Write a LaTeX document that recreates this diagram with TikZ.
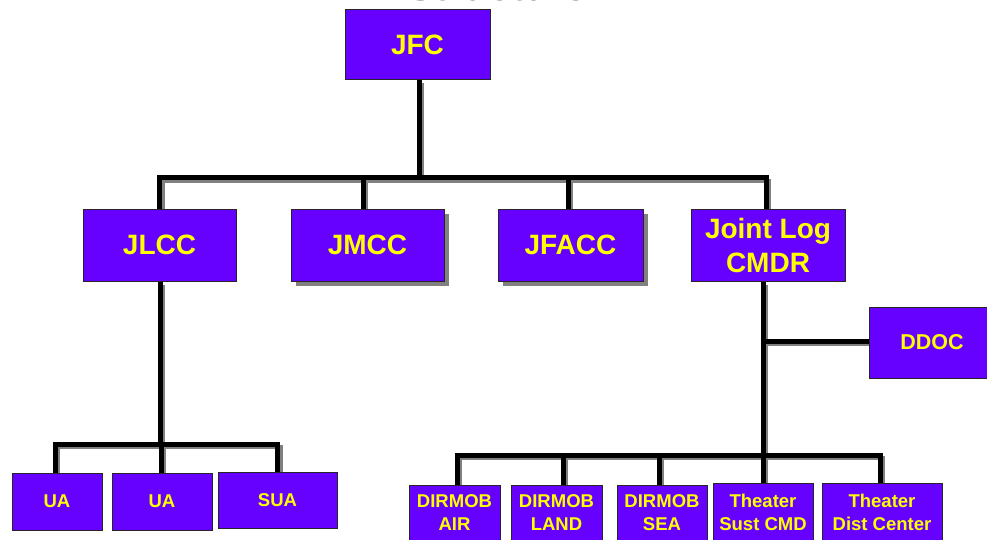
\documentclass[tikz,border=0pt]{standalone}
\usepackage{fontspec}
\setmainfont{Liberation Sans}
\usetikzlibrary{shadows}
\definecolor{boxpurple}{HTML}{6600FF}
\definecolor{boxyellow}{HTML}{FFFF00}
\definecolor{shadegray}{HTML}{808080}
\tikzset{
  orgbox/.style={draw=black!85, line width=1pt, fill=boxpurple, text=boxyellow,
    font=\bfseries, align=center, inner sep=0pt, rectangle},
  bigtext/.style={font=\bfseries\fontsize{28}{34}\selectfont},
  midtext/.style={font=\bfseries\fontsize{21.5}{26}\selectfont},
  smalltext/.style={font=\bfseries\fontsize{18.5}{23}\selectfont},
  boxshadow/.style={drop shadow={shadow xshift=4.5pt, shadow yshift=-4.5pt, fill=shadegray, opacity=1}},
  blackline/.style={draw=black, line width=5pt},
  grayline/.style={draw=shadegray, line width=4pt, transform canvas={xshift=3pt, yshift=-3pt}},
}
\newcommand\orgconnectors[1]{%
  \draw[#1] (jfc.south -| bustop) -- (bustop);
  \draw[#1] (jlcc.north) |- (bustop) -| ([xshift=-2pt]jlog.north);
  \draw[#1] ([xshift=-4.5pt]jmcc.north) -- ([xshift=-4.5pt]jmcc.north |- bustop);
  \draw[#1] ([xshift=-2.5pt]jfacc.north) -- ([xshift=-2.5pt]jfacc.north |- bustop);
  \draw[#1] (jlcc.south -| busleft) -- (busleft);
  \draw[#1] ([xshift=-2pt]ua1.north) |- (busleft) -| (sua.north);
  \draw[#1] ([xshift=-1pt]ua2.north) -- ([xshift=-1pt]ua2.north |- busleft);
  \draw[#1] (jlog.south -| busright) -- (busright);
  \draw[#1] (ddocjoint) -- (ddoc.west |- ddocjoint);
  \draw[#1] ([xshift=2.5pt]dair.north) |- (busright) -| ([xshift=-2pt]tdist.north);
  \draw[#1] ([xshift=6.5pt]dland.north) -- ([xshift=6.5pt]dland.north |- busright);
  \draw[#1] ([xshift=-3pt]dsea.north) -- ([xshift=-3pt]dsea.north |- busright);
  \draw[#1] (tsust.north) -- (tsust.north |- busright);
}
\begin{document}
\begin{tikzpicture}[x=1pt, y=-1pt]
\useasboundingbox (0,0) rectangle (987,540);
\clip (0,0) rectangle (987,540);
% partially visible title
\node[anchor=base, inner sep=0pt, text=black!75, font=\bfseries\fontsize{40.5}{44}\selectfont] (title) at (497.5,0.5) {Structure};
% boxes
\node[orgbox, bigtext, minimum width=145pt, minimum height=70pt] (jfc) at (417.5,45) {JFC};
\node[orgbox, bigtext, minimum width=153pt, minimum height=72pt] (jlcc) at (159.5,245) {JLCC};
\node[orgbox, bigtext, boxshadow, minimum width=153pt, minimum height=72pt] (jmcc) at (367.5,245) {JMCC};
\node[orgbox, bigtext, boxshadow, minimum width=145pt, minimum height=72pt] (jfacc) at (570.5,245) {JFACC};
\node[orgbox, bigtext, minimum width=154pt, minimum height=72pt] (jlog) at (768,245) {Joint Log\\CMDR};
\node[orgbox, midtext, minimum width=126pt, minimum height=71pt] (ddoc) at (932,342.5) {DDOC};
\node[orgbox, smalltext, minimum width=90pt, minimum height=57pt] (ua1) at (57,501.5) {UA};
\node[orgbox, smalltext, minimum width=100pt, minimum height=57pt] (ua2) at (162,501.5) {UA};
\node[orgbox, smalltext, minimum width=119pt, minimum height=56pt] (sua) at (277.5,500) {SUA};
\node[orgbox, smalltext, minimum width=91pt, minimum height=56pt] (dair) at (454.5,513) {DIRMOB\\AIR};
\node[orgbox, smalltext, minimum width=91pt, minimum height=56pt] (dland) at (556.5,513) {DIRMOB\\LAND};
\node[orgbox, smalltext, minimum width=90pt, minimum height=56pt] (dsea) at (662,513) {DIRMOB\\SEA};
\node[orgbox, smalltext, minimum width=100pt, minimum height=58pt] (tsust) at (763,512) {Theater\\Sust CMD};
\node[orgbox, smalltext, minimum width=120pt, minimum height=58pt] (tdist) at (882,512) {Theater\\Dist Center};
% bus joints
\coordinate (bustop) at (419,178);
\coordinate (busleft) at (160,444);
\coordinate (busright) at (763,455);
\coordinate (ddocjoint) at (763,341);
% connectors (shadow first, then black)
\orgconnectors{grayline}
\orgconnectors{blackline}
% redraw boxes on top of connectors
\node[orgbox, bigtext, minimum width=145pt, minimum height=70pt] at (jfc) {JFC};
\node[orgbox, bigtext, minimum width=153pt, minimum height=72pt] at (jlcc) {JLCC};
\node[orgbox, bigtext, minimum width=153pt, minimum height=72pt] at (jmcc) {JMCC};
\node[orgbox, bigtext, minimum width=145pt, minimum height=72pt] at (jfacc) {JFACC};
\node[orgbox, bigtext, minimum width=154pt, minimum height=72pt] at (jlog) {Joint Log\\CMDR};
\node[orgbox, midtext, minimum width=126pt, minimum height=71pt] at (ddoc) {DDOC};
\node[orgbox, smalltext, minimum width=90pt, minimum height=57pt] at (ua1) {UA};
\node[orgbox, smalltext, minimum width=100pt, minimum height=57pt] at (ua2) {UA};
\node[orgbox, smalltext, minimum width=119pt, minimum height=56pt] at (sua) {SUA};
\node[orgbox, smalltext, minimum width=91pt, minimum height=56pt] at (dair) {DIRMOB\\AIR};
\node[orgbox, smalltext, minimum width=91pt, minimum height=56pt] at (dland) {DIRMOB\\LAND};
\node[orgbox, smalltext, minimum width=90pt, minimum height=56pt] at (dsea) {DIRMOB\\SEA};
\node[orgbox, smalltext, minimum width=100pt, minimum height=58pt] at (tsust) {Theater\\Sust CMD};
\node[orgbox, smalltext, minimum width=120pt, minimum height=58pt] at (tdist) {Theater\\Dist Center};
\end{tikzpicture}
\end{document}
